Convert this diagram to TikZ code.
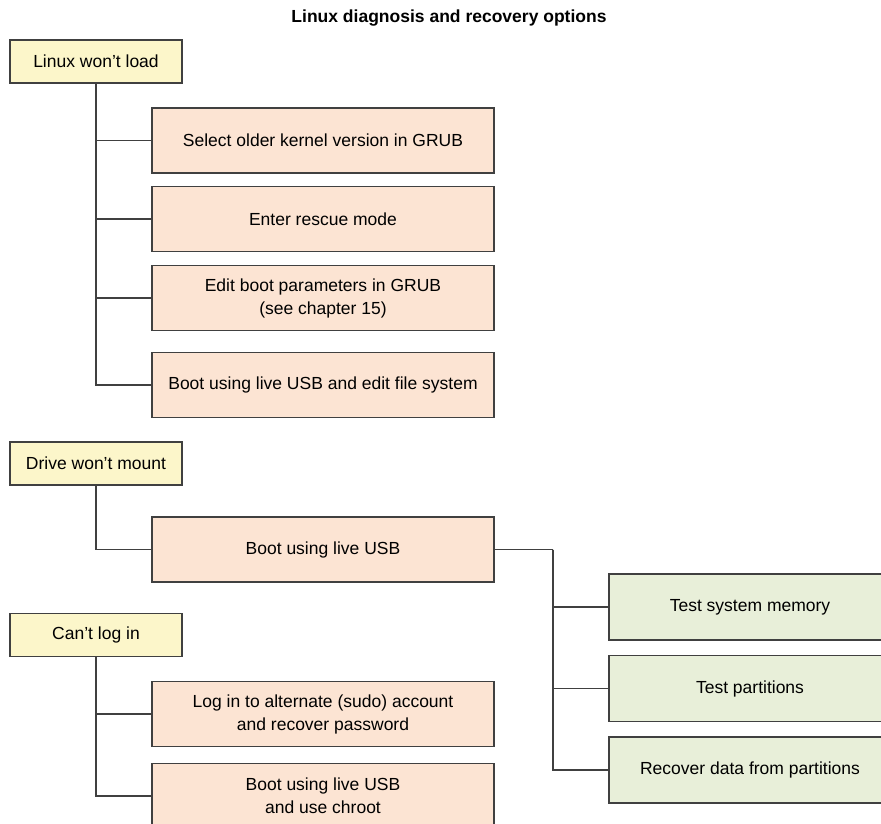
\documentclass[tikz,border=0pt]{standalone}
\usepackage{fontspec}
\setmainfont{Liberation Sans}
\begin{document}
\begin{tikzpicture}[x=1pt,y=-1pt,
  box/.style={draw=black!75, line width=1.1pt, inner sep=0pt, align=center,
    font=\fontsize{17.5}{23}\selectfont},
  problem/.style={box, fill=probfill, minimum width=172pt, minimum height=43pt},
  remedy/.style={box, fill=remfill, minimum width=342pt, minimum height=65pt},
  check/.style={box, fill=chkfill, minimum width=282pt, minimum height=66pt},
  link/.style={draw=black!75, line width=1.1pt}]
\definecolor{probfill}{RGB}{252,246,202}
\definecolor{remfill}{RGB}{252,228,211}
\definecolor{chkfill}{RGB}{232,239,217}
\useasboundingbox (0,0) rectangle (881,824);
\clip (0,0) rectangle (881,824);

\node[font=\fontsize{17.5}{21}\selectfont\bfseries] (title) at (449,18) {Linux diagnosis and recovery options};

% Linux won't load
\node[problem] (p1) at (96,61.5) {Linux won’t load};
\node[remedy] (r1) at (323,140.5) {Select older kernel version in GRUB};
\node[remedy] (r2) at (323,219) {Enter rescue mode};
\node[remedy] (r3) at (323,298) {Edit boot parameters in GRUB\\(see chapter 15)};
\node[remedy] (r4) at (323,385) {Boot using live USB and edit file system};

% Drive won't mount
\node[problem] (p2) at (96,463.5) {Drive won’t mount};
\node[remedy] (r5) at (323,549.5) {Boot using live USB};
\node[check] (c1) at (750,607) {Test system memory};
\node[check] (c2) at (750,688.5) {Test partitions};
\node[check] (c3) at (750,770) {Recover data from partitions};

% Can't log in
\node[problem] (p3) at (96,635) {Can’t log in};
\node[remedy] (r6) at (323,714) {Log in to alternate (sudo) account\\and recover password};
\node[remedy] (r7) at (323,796) {Boot using live USB\\and use chroot};

% connectors
\foreach \r in {r1,r2,r3,r4} \draw[link] (p1.south) |- (\r.west);
\draw[link] (p2.south) |- (r5.west);
\foreach \r in {r6,r7} \draw[link] (p3.south) |- (\r.west);
\coordinate (split) at (553,549.5);
\draw[link] (r5.east) -- (split);
\foreach \c in {c1,c2,c3} \draw[link] (split) |- (\c.west);
\end{tikzpicture}
\end{document}
